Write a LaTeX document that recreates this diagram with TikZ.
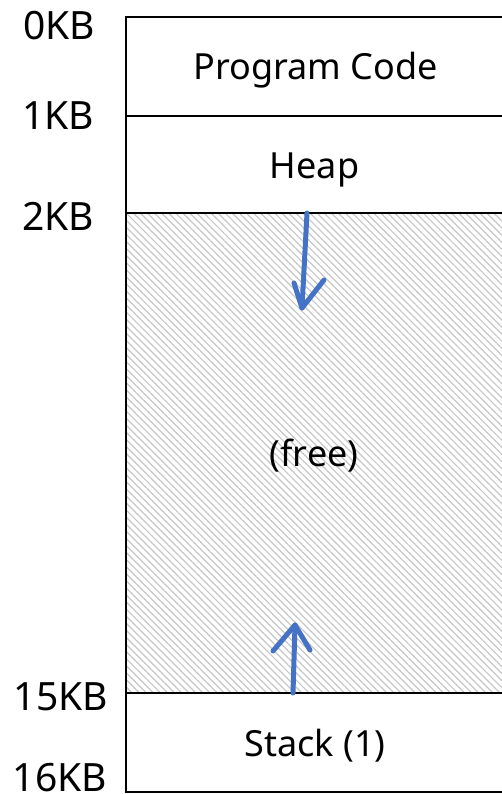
\documentclass[tikz,border=0pt]{standalone}
\usepackage{fontspec}
\setmainfont{Noto Sans}
\usetikzlibrary{patterns.meta}
\definecolor{arrowblue}{HTML}{4472C4}
\begin{document}
\begin{tikzpicture}[x=1pt,y=-1pt,
  region/.style={draw=black, line width=2.5pt, minimum width=378pt, inner sep=0pt},
  rtext/.style={font=\fontsize{36}{38}\selectfont, anchor=base, inner sep=0pt},
  lbl/.style={font=\fontsize{39}{41}\selectfont, inner sep=0pt},
  growline/.style={draw=arrowblue, line width=5pt, line cap=round, line join=round}]
\useasboundingbox (0,0) rectangle (502,794);
\clip (0,0) rectangle (502,794);
\fill[pattern={Lines[angle=-45,distance=5pt,line width=1.2pt]}, pattern color=gray!45] (126,213) rectangle (504,693);
\node[region, minimum height=99pt] (code) at (315,66.5) {};
\node[region, minimum height=97pt] (heap) at (315,164.5) {};
\node[region, minimum height=480pt] (free) at (315,453) {};
\node[region, minimum height=99pt] (stack) at (315,742.5) {};
\node[rtext] (codeT) at (315.5,80) {Program Code};
\node[rtext] (heapT) at (314.5,179) {Heap};
\node[rtext] (freeT) at (314,466) {(free)};
\node[rtext] (stackT) at (315,756) {Stack (1)};
\node[lbl] (k0) at (59,26) {0KB};
\node[lbl] (k1) at (58,116) {1KB};
\node[lbl] (k2) at (58,216) {2KB};
\node[lbl] (k15) at (61,697) {15KB};
\node[lbl] (k16) at (60,778) {16KB};
\coordinate (dtop) at (307,213);
\coordinate (dtip) at (302,308);
\coordinate (dl) at (294,283);
\coordinate (dr) at (324,280);
\draw[growline] (dtop) -- (dtip);
\draw[growline] (dl) -- (dtip) -- (dr);
\coordinate (ubot) at (293,693);
\coordinate (utip) at (295,625);
\coordinate (ul) at (273,651);
\coordinate (ur) at (310,650);
\draw[growline] (ubot) -- (utip);
\draw[growline] (ul) -- (utip) -- (ur);
\end{tikzpicture}
\end{document}
